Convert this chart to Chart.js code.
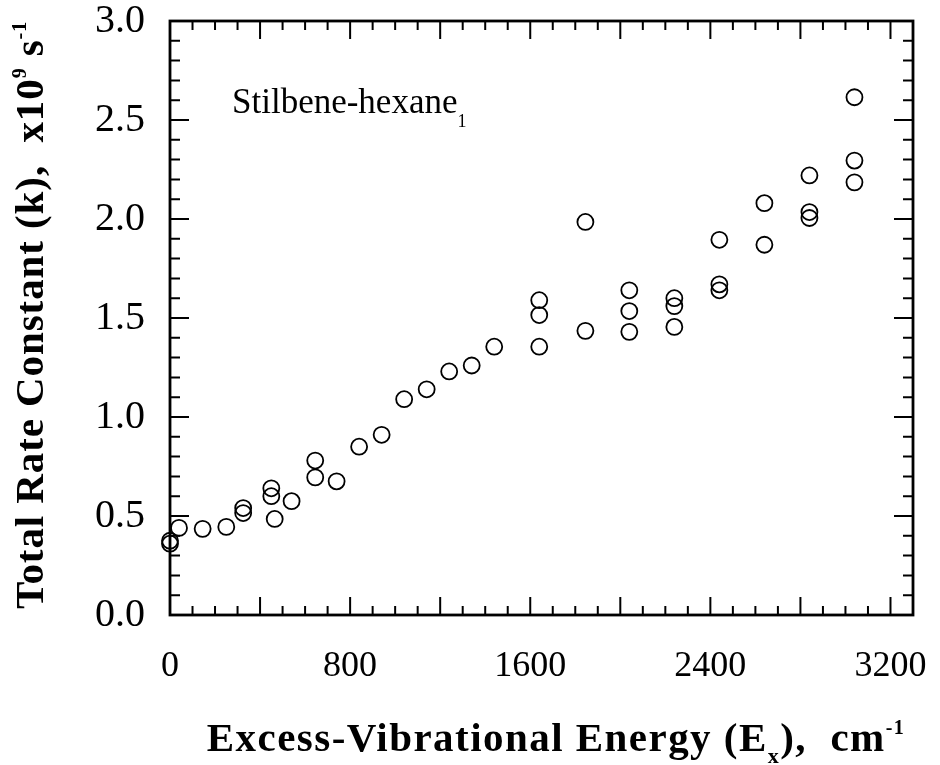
<!DOCTYPE html>
<html>
<head>
<meta charset="utf-8">
<script src="https://cdn.jsdelivr.net/npm/chart.js@4.4.1/dist/chart.umd.min.js"></script>
<style>
  body { margin: 0; background: #fff; }
  #wrap { width: 940px; height: 765px; }
</style>
</head>
<body>
<div id="wrap"><canvas id="myChart"></canvas></div>
<script>
// excess vibrational energy (cm-1) and total rate constant (x10^9 s-1)
const energy = [0, 0, 40, 145, 250, 325, 325, 450, 450, 465, 540, 645, 645, 740, 840, 940,
  1040, 1140, 1240, 1340, 1440, 1640, 1640, 1640, 1845, 1845, 2040, 2040, 2040,
  2240, 2240, 2240, 2440, 2440, 2440, 2640, 2640, 2840, 2840, 2840, 3040, 3040, 3040];
const rate = [0.375, 0.36, 0.44, 0.435, 0.445, 0.54, 0.515, 0.64, 0.60, 0.485, 0.575, 0.78, 0.695, 0.675, 0.85, 0.91,
  1.09, 1.14, 1.23, 1.26, 1.355, 1.59, 1.515, 1.355, 1.985, 1.435, 1.64, 1.535, 1.43,
  1.60, 1.56, 1.455, 1.895, 1.67, 1.64, 2.08, 1.87, 2.22, 2.035, 2.005, 2.615, 2.295, 2.185];

const xTickLabels = [0, 800, 1600, 2400, 3200];
const yTickLabels = [0, 0.5, 1.0, 1.5, 2.0, 2.5, 3.0];
const seriesLabel = "Stilbene-hexane";

const points = energy.map((e, i) => ({x: e, y: rate[i]}));
const serif = '"Liberation Serif", "Times New Roman", serif';

// draws text pieces one after another, with super/subscripts
function drawPieces(c, pieces, x, y, spacing) {
  let cx = x;
  pieces.forEach(p => {
    c.font = p.font;
    if ('letterSpacing' in c) c.letterSpacing = spacing + 'px';
    c.fillText(p.t, cx, y + (p.dy || 0));
    cx += c.measureText(p.t).width;
  });
  return cx - x;
}
function piecesWidth(c, pieces, spacing) {
  let w = 0;
  pieces.forEach(p => {
    c.font = p.font;
    if ('letterSpacing' in c) c.letterSpacing = spacing + 'px';
    w += c.measureText(p.t).width;
  });
  return w;
}

const plotFrame = {
  id: 'plotFrame',
  afterDraw(chart) {
    const c = chart.ctx;
    const a = chart.chartArea;
    const xs = chart.scales.x, ys = chart.scales.y;
    c.save();
    c.strokeStyle = '#000';
    c.lineWidth = 2.8;
    c.strokeRect(a.left, a.top, a.right - a.left, a.bottom - a.top);

    // inward ticks on all four sides
    c.lineWidth = 2;
    c.beginPath();
    for (let v = 100; v < 3300; v += 100) {
      const px = xs.getPixelForValue(v);
      const len = v % 400 === 0 ? 18 : 9;
      c.moveTo(px, a.bottom); c.lineTo(px, a.bottom - len);
      c.moveTo(px, a.top); c.lineTo(px, a.top + len);
    }
    for (let i = 1; i < 30; i++) {
      const py = ys.getPixelForValue(i / 10);
      const len = i % 5 === 0 ? 19 : 10;
      c.moveTo(a.left, py); c.lineTo(a.left + len, py);
      c.moveTo(a.right, py); c.lineTo(a.right - len, py);
    }
    c.stroke();

    c.fillStyle = '#000';
    c.textBaseline = 'alphabetic';
    c.textAlign = 'left';

    // series label
    drawPieces(c, [
      {t: seriesLabel, font: '35px ' + serif},
      {t: '1', font: '18px ' + serif, dy: 14}
    ], a.left + 62, a.top + 92, 0);

    // x axis title
    const big = 'bold 41px ' + serif;
    const xPieces = [
      {t: 'Excess-Vibrational Energy (E', font: big},
      {t: 'x', font: 'bold 22px ' + serif, dy: 12},
      {t: '),  cm', font: big},
      {t: '-1', font: 'bold 20px ' + serif, dy: -17}
    ];
    const xTarget = 697;
    const xw0 = piecesWidth(c, xPieces, 0);
    const sp = Math.max(0, (xTarget - xw0) / 36);
    const xw = piecesWidth(c, xPieces, sp);
    drawPieces(c, xPieces, 556 - xw / 2, 751, sp);

    // y axis title
    const yPieces = [
      {t: 'Total Rate Constant (k),  x10', font: big},
      {t: '9', font: 'bold 20px ' + serif, dy: -17},
      {t: ' s', font: big},
      {t: '-1', font: 'bold 20px ' + serif, dy: -17}
    ];
    const yTarget = 590;
    const yw0 = piecesWidth(c, yPieces, 0);
    const sp2 = Math.max(0, (yTarget - yw0) / 36);
    const yw = piecesWidth(c, yPieces, sp2);
    c.translate(43, 315);
    c.rotate(-Math.PI / 2);
    drawPieces(c, yPieces, -yw / 2, 0, sp2);
    c.restore();
  }
};

new Chart(document.getElementById('myChart'), {
  type: 'scatter',
  data: {
    datasets: [{
      label: seriesLabel,
      data: points,
      pointStyle: 'circle',
      pointRadius: 8,
      pointHoverRadius: 8,
      pointBorderWidth: 1.8,
      borderColor: '#000',
      backgroundColor: 'rgba(0,0,0,0)',
      clip: false
    }]
  },
  options: {
    responsive: true,
    maintainAspectRatio: false,
    animation: false,
    events: [],
    layout: { padding: { left: 0, top: 21, right: 27, bottom: 0 } },
    plugins: { legend: { display: false }, tooltip: { enabled: false } },
    scales: {
      x: {
        type: 'linear',
        min: 0,
        max: 3300,
        grid: { display: false, drawTicks: false },
        border: { display: false },
        afterBuildTicks: s => { s.ticks = xTickLabels.map(v => ({value: v})); },
        afterFit: s => { s.height = 150; s.paddingLeft = 0; s.paddingRight = 0; },
        ticks: {
          color: '#000',
          padding: 30,
          maxRotation: 0,
          autoSkip: false,
          font: { family: serif, size: 36 },
          callback: v => String(v)
        }
      },
      y: {
        type: 'linear',
        min: 0,
        max: 3.0,
        grid: { display: false, drawTicks: false },
        border: { display: false },
        afterBuildTicks: s => { s.ticks = yTickLabels.map(v => ({value: v})); },
        afterFit: s => { s.width = 170; s.paddingTop = 0; s.paddingBottom = 0; },
        ticks: {
          color: '#000',
          padding: 25,
          autoSkip: false,
          font: { family: serif, size: 40 },
          callback: v => Number(v).toFixed(1)
        }
      }
    }
  },
  plugins: [plotFrame]
});
</script>
</body>
</html>
